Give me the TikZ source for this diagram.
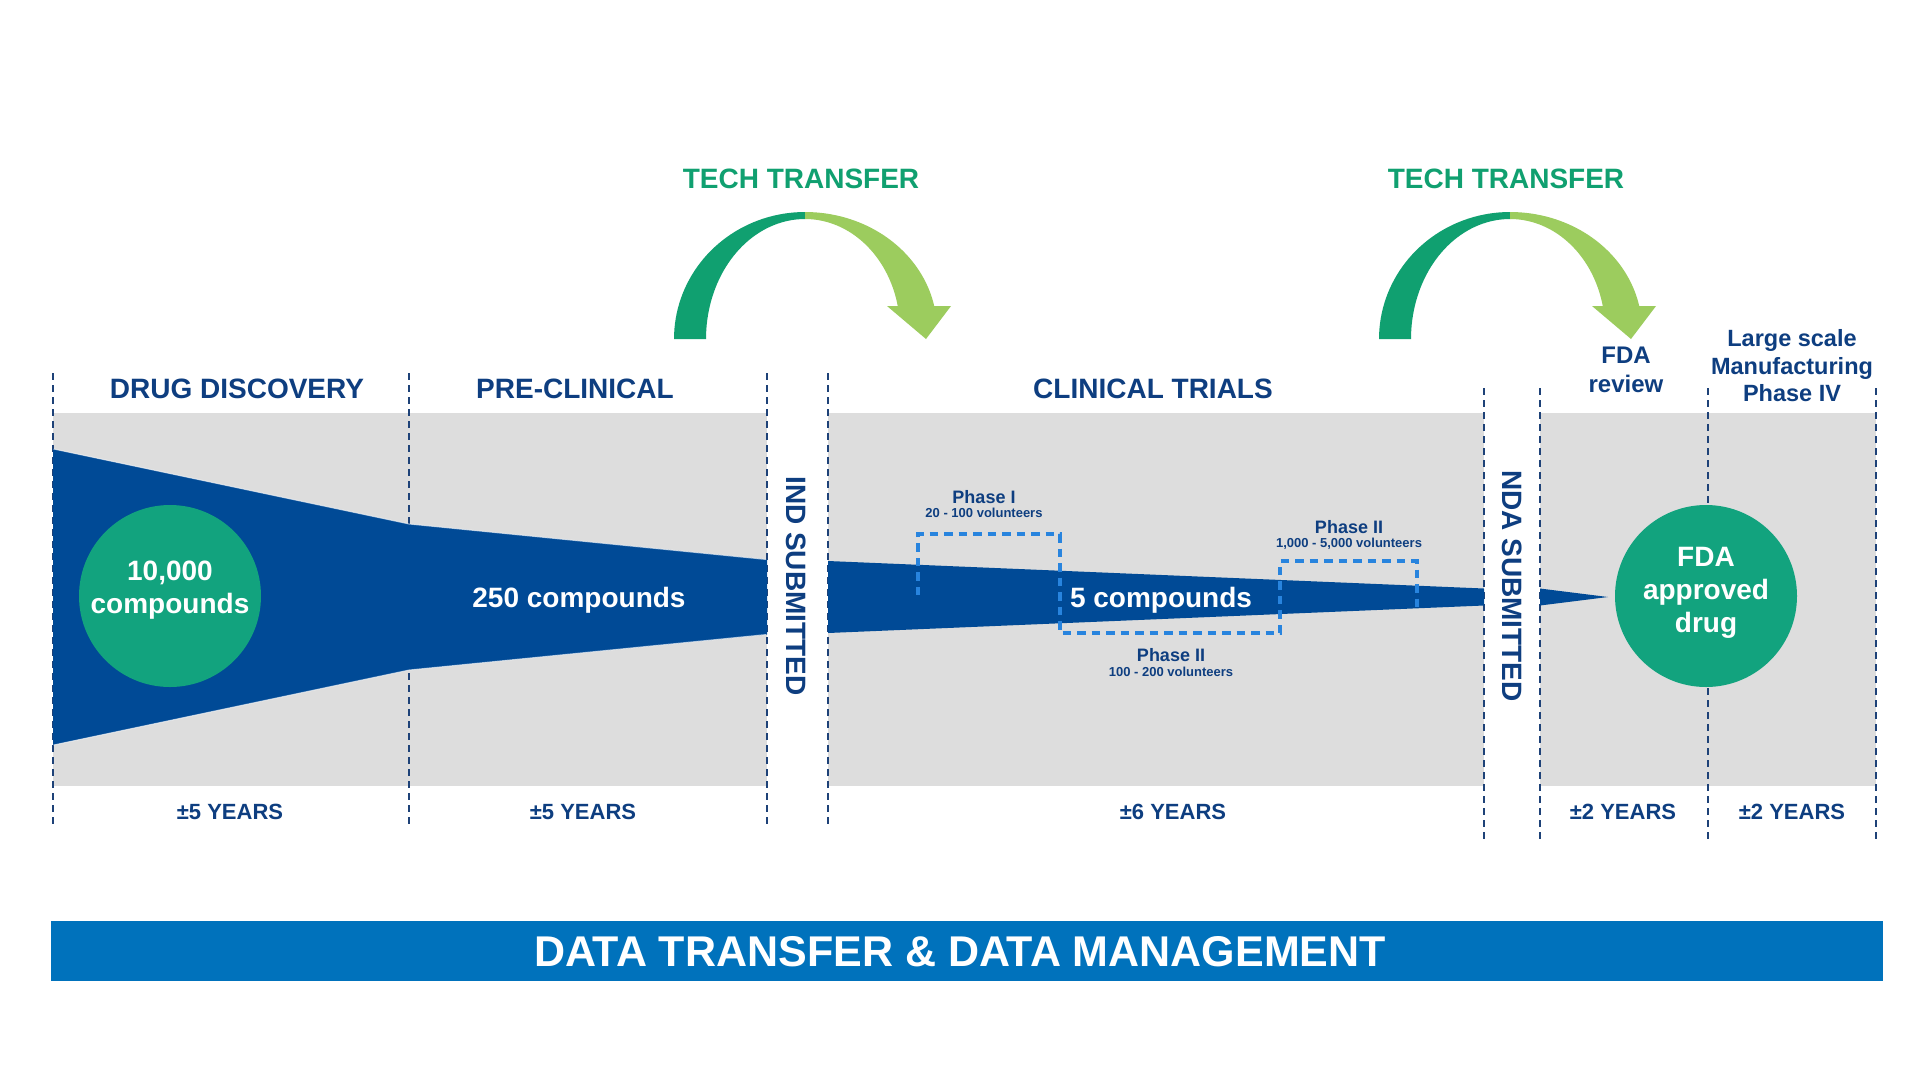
\documentclass[tikz,border=0pt]{standalone}
\usepackage{fontspec}
\setmainfont{Liberation Sans}
\definecolor{navy}{RGB}{14,62,128}
\definecolor{funnelblue}{RGB}{0,74,150}
\definecolor{bandgray}{RGB}{221,221,221}
\definecolor{dgreen}{RGB}{16,160,112}
\definecolor{lgreen}{RGB}{156,204,94}
\definecolor{circgreen}{RGB}{18,163,126}
\definecolor{barblue}{RGB}{0,114,188}
\definecolor{phaseblue}{RGB}{40,132,222}
\definecolor{vline}{RGB}{30,66,120}
\begin{document}
\begin{tikzpicture}[x=1pt,y=-1pt,
  vdash/.style={draw=vline, line width=2.7pt, dash pattern=on 7pt off 5pt},
  pdash/.style={draw=phaseblue, line width=3.2pt, dash pattern=on 8.5pt off 6pt},
  hdr/.style={text=navy, font=\fontsize{28}{33}\selectfont\bfseries, inner sep=0pt, anchor=base},
  hdrml/.style={text=navy, inner sep=0pt, align=center},
  yrs/.style={text=navy, font=\fontsize{22}{26}\selectfont\bfseries, inner sep=0pt, anchor=base},
  ph/.style={text=navy, font=\fontsize{18}{20}\selectfont\bfseries, inner sep=0pt, anchor=base},
  phs/.style={text=navy, font=\fontsize{13}{15}\selectfont\bfseries, inner sep=0pt, anchor=base},
  bigcirc/.style={circle, fill=circgreen, minimum size=182pt, inner sep=0pt},
  whitetxt/.style={text=white, font=\fontsize{28}{33}\selectfont\bfseries, inner sep=0pt, align=center},
  techtxt/.style={text=dgreen, font=\fontsize{28}{33}\selectfont\bfseries, inner sep=0pt, anchor=base},
  subm/.style={text=navy, font=\fontsize{28}{33}\selectfont\bfseries, inner sep=0pt, rotate=-90},
  funneledge/.style={draw=white, draw opacity=0.6, line width=1pt, line join=round}
]
\useasboundingbox (0,0) rectangle (1920,1080);
\fill[white] (0,0) rectangle (1920,1080);

% gray bands
\fill[bandgray] (53,413) rectangle (767,786);
\fill[bandgray] (828,413) rectangle (1484,786);
\fill[bandgray] (1540,413) rectangle (1876,786);

% dashed vertical separators
\foreach \xx in {53,409,767,828} \draw[vdash] (\xx,373) -- (\xx,825);
\foreach \xx in {1484,1540,1708,1876} \draw[vdash] (\xx,388) -- (\xx,842);

% funnel
\fill[funnelblue] (53,449) -- (409,524) -- (767,559.5) -- (767,634.5) -- (409,670) -- (53,745) -- cycle;
\draw[funneledge] (53.5,449) -- (409,524) -- (766,559.5);
\draw[funneledge] (53.5,745) -- (409,670) -- (766,634.5);
\fill[funnelblue] (828,561) -- (1484,588.5) -- (1484,605.5) -- (828,633) -- cycle;
\fill[funnelblue] (1540,588.5) -- (1608,597) -- (1540,605.5) -- cycle;

% phase boxes
\draw[pdash] (918,595) -- (918,534) -- (1060,534) -- (1060,633) -- (1280,633) -- (1280,561) -- (1417,561) -- (1417,609);

% circles
\node[bigcirc] (c1) at (170,596) {};
\node[whitetxt] (c1t) at ([yshift=5.5pt]c1.center) {10,000\\compounds};
\node[bigcirc] (c2) at (1706,596) {};
\node[whitetxt] (c2t) at ([yshift=3pt]c2.center) {FDA\\approved\\drug};

% funnel labels
\node[whitetxt, anchor=base] (t250) at (579,607) {250 compounds};
\node[whitetxt, anchor=base] (t5) at (1161,607) {5 compounds};

% phase labels
\node[ph] (p1) at (984,503.5) {Phase I};
\node[phs] (p1s) at (984,517.5) {20 - 100 volunteers};
\node[ph] (p3) at (1349,533.5) {Phase II};
\node[phs] (p3s) at (1349,547.5) {1,000 - 5,000 volunteers};
\node[ph] (p2) at (1171,661.5) {Phase II};
\node[phs] (p2s) at (1171,676.5) {100 - 200 volunteers};

% headers
\node[hdr] (h1) at (237,398) {DRUG DISCOVERY};
\node[hdr] (h2) at (575,398) {PRE-CLINICAL};
\node[hdr] (h3) at (1153,398) {CLINICAL TRIALS};
\node[hdrml, font=\fontsize{24}{29}\selectfont\bfseries] (h4) at (1626,370) {FDA\\review};
\node[hdrml, font=\fontsize{23.5}{27.5}\selectfont\bfseries] (h5) at (1792,366) {Large scale\\Manufacturing\\Phase IV};

% submitted labels
\node[subm] (ind) at (796,586) {IND SUBMITTED};
\node[subm] (nda) at (1512,586) {NDA SUBMITTED};

% years
\node[yrs] (y1) at (230,819) {±5 YEARS};
\node[yrs] (y2) at (583,819) {±5 YEARS};
\node[yrs] (y3) at (1173,819) {±6 YEARS};
\node[yrs] (y4) at (1623,819) {±2 YEARS};
\node[yrs] (y5) at (1792,819) {±2 YEARS};

% tech transfer arrows
\foreach \sh/\nm in {0/tta,705/ttb}{
\begin{scope}[xshift=\sh pt]
\fill[dgreen] plot[domain=180:270,samples=40] ({805+131*cos(\x)},{339+127*sin(\x)})
  -- plot[domain=270:180,samples=40] ({805+99*cos(\x)},{339+120*sin(\x)}) -- cycle;
\fill[lgreen] plot[domain=-90:-11.74,samples=40] ({805+132*cos(\x)},{330+118*sin(\x)})
  -- (951,306) -- (926,339) -- (887,306)
  -- plot[domain=-12.49:-90,samples=40] ({805+95*cos(\x)},{330+111*sin(\x)}) -- cycle;
\node[techtxt] (\nm) at (801,188) {TECH TRANSFER};
\end{scope}
}

% data bar
\fill[barblue] (51,921) rectangle (1883,981);
\node[text=white, font=\fontsize{43}{48}\selectfont\bfseries, inner sep=0pt, anchor=base] (dt) at (960,966) {DATA TRANSFER \& DATA MANAGEMENT};
\end{tikzpicture}
\end{document}
